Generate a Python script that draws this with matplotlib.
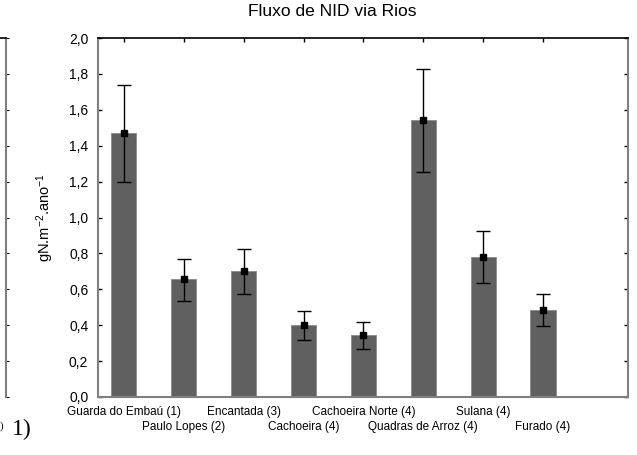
import numpy as np
import matplotlib.pyplot as plt
from matplotlib.transforms import blended_transform_factory

# data
rios = ['Guarda do Embaú (1)', 'Paulo Lopes (2)', 'Encantada (3)', 'Cachoeira (4)',
        'Cachoeira Norte (4)', 'Quadras de Arroz (4)', 'Sulana (4)', 'Furado (4)']
media = [1.47, 0.655, 0.70, 0.40, 0.345, 1.545, 0.78, 0.485]
sup = [1.74, 0.77, 0.825, 0.48, 0.42, 1.825, 0.925, 0.575]
inf = [1.20, 0.535, 0.575, 0.32, 0.27, 1.255, 0.635, 0.395]
yticks = [0.0, 0.2, 0.4, 0.6, 0.8, 1.0, 1.2, 1.4, 1.6, 1.8, 2.0]

plt.rcParams['font.family'] = ['Liberation Sans', 'DejaVu Sans']
plt.rcParams['mathtext.fontset'] = 'custom'
plt.rcParams['mathtext.rm'] = 'Liberation Sans'
plt.rcParams['mathtext.it'] = 'Liberation Sans'

fig = plt.figure(figsize=(6.37, 4.55), dpi=100)
W, H = 637, 455

# main axes: x 98..628, y 38..397 (pixels)
ax = fig.add_axes([98 / W, 1 - 397 / H, 530 / W, 359 / H])

x = np.arange(1, len(rios) + 1)
media = np.array(media)
err = [media - np.array(inf), np.array(sup) - media]

ax.bar(x, media, width=0.42, color='#606060', edgecolor='#8a8a8a', linewidth=0.6, zorder=2)
ax.errorbar(x, media, yerr=err, fmt='s', color='black', ecolor='black',
            markersize=5, elinewidth=1, capsize=5, capthick=1, zorder=3)

ax.set_xlim(0.567, 9.42)
ax.set_ylim(0, 2.0)
ax.set_yticks(yticks)
ax.set_yticklabels([f'{v:.1f}'.replace('.', ',') for v in yticks], fontsize=10)
ax.set_xticks(x)
ax.set_xticklabels([])
ax.tick_params(direction='in', length=3, width=1, color='black',
               top=True, right=True, bottom=True, left=True, pad=7)

for s in ['left', 'right', 'bottom']:
    ax.spines[s].set_color('#808080')
    ax.spines[s].set_linewidth(1.5)
ax.spines['top'].set_color('black')
ax.spines['top'].set_linewidth(1.2)

# staggered category labels
trans = blended_transform_factory(ax.transData, fig.transFigure)
for i, (xi, nome) in enumerate(zip(x, rios)):
    ypix = 412 if i % 2 == 0 else 427
    ax.text(xi, 1 - ypix / H, nome, ha='center', va='center', fontsize=8.5,
            transform=trans, clip_on=False)

ax.set_ylabel('gN.m$^{-2}$.ano$^{-1}$', fontsize=10.5, labelpad=9)
fig.text(332 / W, 1 - 12 / H, 'Fluxo de NID via Rios', ha='center', va='center', fontsize=12.5)

# piece of the neighbouring chart cut at the left edge
ax2 = fig.add_axes([-100 / W, 1 - 397 / H, 105.5 / W, 359 / H])
ax2.set_xlim(0, 1)
ax2.set_ylim(0, 10)
ax2.set_yticks(np.arange(0, 11))
ax2.set_yticklabels([])
ax2.set_xticks([])
ax2.tick_params(axis='y', left=False, right=True, direction='out', length=2, color='black')
for s in ['left', 'bottom']:
    ax2.spines[s].set_visible(False)
ax2.spines['right'].set_color('#808080')
ax2.spines['right'].set_linewidth(1.5)
ax2.spines['top'].set_color('black')
ax2.spines['top'].set_linewidth(1.2)
fig.text(0 / W, 1 - 426 / H, ')', ha='left', va='center', fontsize=8, family='Liberation Serif')
fig.text(12 / W, 1 - 429 / H, '1)', ha='left', va='center', fontsize=17, family='Liberation Serif')

fig.savefig('out.png', dpi=100)
